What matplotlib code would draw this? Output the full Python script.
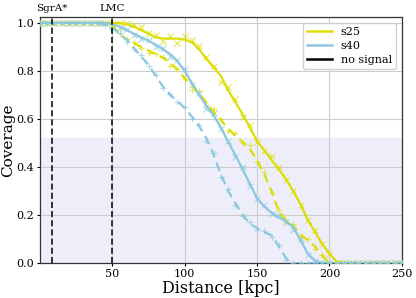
import numpy as np
import matplotlib
matplotlib.use("Agg")
import matplotlib.pyplot as plt
from matplotlib.lines import Line2D

plt.rcParams['font.family'] = ['DejaVu Serif']

distance = np.arange(0, 255, 5)

# smooth fitted curves
s25_solid_line = [1.0]*11 + [1.0, 0.995, 0.985, 0.97, 0.955, 0.94, 0.935, 0.935, 0.935, 0.93,
                             0.92, 0.89, 0.85, 0.815, 0.78, 0.72, 0.67, 0.62, 0.565, 0.508,
                             0.47, 0.43, 0.39, 0.35, 0.3, 0.245, 0.18, 0.13, 0.08, 0.04, 0.005] + [0.0]*9
s25_dash_line = [1.0]*10 + [0.99, 0.955, 0.93, 0.915, 0.9, 0.885, 0.87, 0.855, 0.835, 0.805,
                            0.77, 0.74, 0.705, 0.67, 0.63, 0.595, 0.56, 0.53, 0.505, 0.475,
                            0.43, 0.37, 0.3, 0.215, 0.18, 0.155, 0.12, 0.095, 0.07, 0.03, 0.0] + [0.0]*10
s40_solid_line = [1.0]*10 + [0.995, 0.985, 0.97, 0.955, 0.94, 0.925, 0.91, 0.89, 0.87, 0.84,
                             0.8, 0.75, 0.7, 0.655, 0.615, 0.565, 0.505, 0.45, 0.39, 0.33,
                             0.27, 0.235, 0.21, 0.19, 0.175, 0.15, 0.095, 0.04, 0.01, 0.0] + [0.0]*11
s40_dash_line = [1.0]*9 + [0.995, 0.98, 0.955, 0.93, 0.895, 0.86, 0.825, 0.78, 0.735, 0.7,
                           0.675, 0.645, 0.61, 0.57, 0.52, 0.45, 0.37, 0.3, 0.25, 0.2,
                           0.165, 0.145, 0.13, 0.115, 0.07, 0.02, 0.0] + [0.0]*15

# measured points (markers)
s25_solid_pts = [1.0]*11 + [1.0, 1.0, 0.99, 0.985, 0.96, 0.95, 0.925, 0.945, 0.915, 0.945,
                            0.93, 0.905, 0.86, 0.82, 0.755, 0.735, 0.685, 0.61, 0.575, 0.505,
                            0.465, 0.445, 0.4, 0.345, 0.3, 0.24, 0.18, 0.14, 0.08, 0.04, 0.0] + [0.0]*9
s25_dash_pts = [1.0]*10 + [0.985, 0.96, 0.935, 0.92, 0.895, 0.875, 0.87, 0.86, 0.82, 0.81,
                           0.765, 0.72, 0.715, 0.66, 0.64, 0.6, 0.55, 0.54, 0.5, 0.49,
                           0.42, 0.38, 0.29, 0.22, 0.17, 0.165, 0.115, 0.1, 0.06, 0.035, 0.0] + [0.0]*10
s40_solid_pts = [1.0]*10 + [0.99, 0.98, 0.975, 0.95, 0.935, 0.93, 0.9, 0.895, 0.86, 0.845,
                            0.81, 0.74, 0.71, 0.64, 0.625, 0.56, 0.51, 0.44, 0.4, 0.32,
                            0.265, 0.24, 0.205, 0.2, 0.17, 0.14, 0.1, 0.035, 0.01, 0.0] + [0.0]*11
s40_dash_pts = [1.0]*9 + [0.99, 0.975, 0.96, 0.92, 0.89, 0.865, 0.82, 0.785, 0.73, 0.705,
                          0.67, 0.65, 0.6, 0.575, 0.51, 0.46, 0.36, 0.31, 0.24, 0.195,
                          0.17, 0.14, 0.135, 0.11, 0.075, 0.015, 0.0] + [0.0]*15

event_names = ["SgrA*", "LMC"]
event_dist = [8.0, 50.0]
shade_top = 0.52

yellow = "#dddd00"
blue = "#89c8e0"

fig = plt.figure(figsize=(4.16, 2.98), dpi=100)
ax = fig.add_axes([0.096, 0.117, 0.87, 0.826])
ax.set_xlim(0, 250)
ax.set_ylim(0, 1.025)
ax.axhspan(0, shade_top, color="#eeeefa", zorder=0)
ax.grid(True, color="#cccccc", linewidth=0.8, zorder=1)
ax.set_axisbelow(True)

ax.plot(distance, s25_solid_pts, ls='none', marker='x', ms=4, mew=0.8, color=yellow, alpha=0.7, zorder=3)
ax.plot(distance, s25_dash_pts, ls='none', marker='+', ms=4.5, mew=0.8, color=yellow, alpha=0.7, zorder=3)
ax.plot(distance, s40_solid_pts, ls='none', marker='x', ms=4, mew=0.8, color=blue, alpha=0.7, zorder=3)
ax.plot(distance, s40_dash_pts, ls='none', marker='+', ms=4.5, mew=0.8, color=blue, alpha=0.7, zorder=3)

ax.plot(distance, s25_solid_line, color=yellow, lw=1.6, zorder=4)
ax.plot(distance, s25_dash_line, color=yellow, lw=1.6, ls=(0, (4, 2.5)), zorder=4)
ax.plot(distance, s40_solid_line, color=blue, lw=1.6, zorder=4)
ax.plot(distance, s40_dash_line, color=blue, lw=1.6, ls=(0, (4, 2.5)), zorder=4)

for name, d in zip(event_names, event_dist):
    ax.axvline(d, color='black', ls=(0, (4, 2)), lw=1.1, zorder=5)
    ax.text(d, 1.04, name, ha='center', va='bottom', fontsize=7.5)

ax.set_xticks([50, 100, 150, 200, 250])
ax.set_yticks([0.0, 0.2, 0.4, 0.6, 0.8, 1.0])
ax.tick_params(labelsize=8, length=2, width=0.8, pad=2)
ax.set_xlabel("Distance [kpc]", fontsize=11.5, labelpad=1)
ax.set_ylabel("Coverage", fontsize=11)
ax.yaxis.set_label_coords(-0.068, 0.5)
for sp in ax.spines.values():
    sp.set_color("#333333")
    sp.set_linewidth(0.9)

handles = [Line2D([], [], color=yellow, lw=1.8),
           Line2D([], [], color=blue, lw=1.8),
           Line2D([], [], color='black', lw=1.8)]
ax.legend(handles, ["s25", "s40", "no signal"], loc='upper right', fontsize=8,
          handlelength=2.2, framealpha=0.9, borderpad=0.4, labelspacing=0.35)

fig.savefig("out.png", dpi=100)
